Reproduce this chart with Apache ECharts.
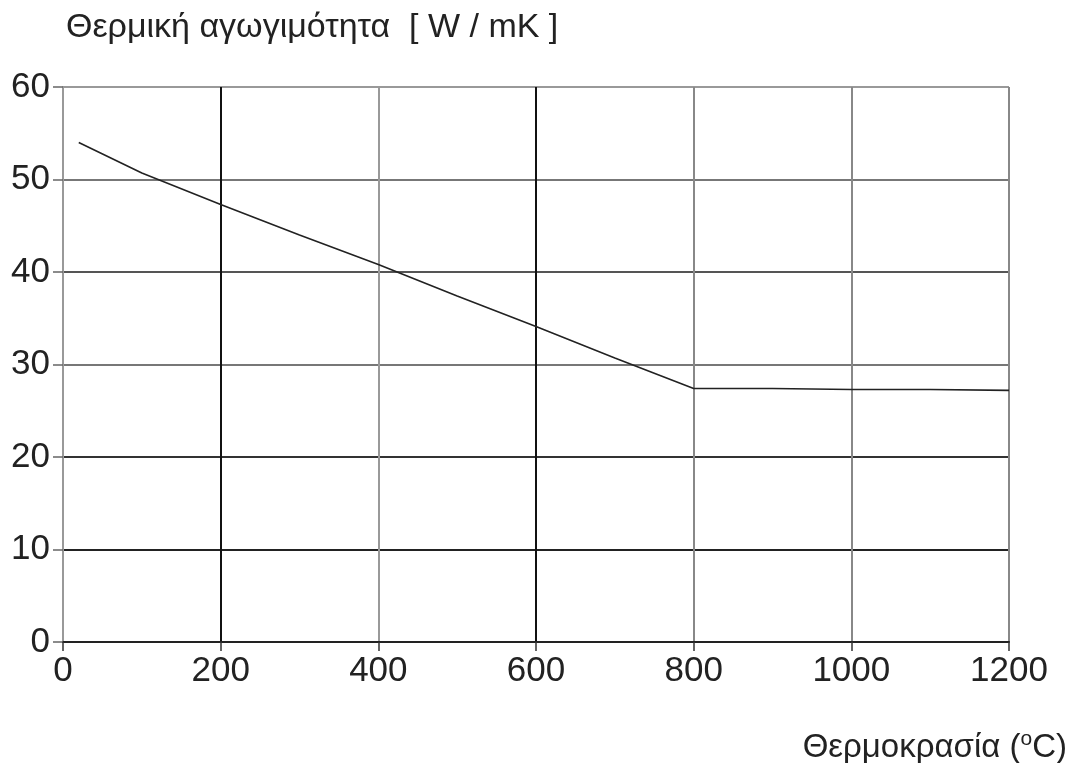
<!DOCTYPE html>
<html>
<head>
<meta charset="utf-8">
<script src="https://cdn.jsdelivr.net/npm/echarts@6/dist/echarts.min.js"></script>
<style>html,body{margin:0;padding:0;background:#fff}#c{width:1082px;height:763px}</style>
</head>
<body>
<div id="c"></div>
<script>
var temperatures = [20, 100, 200, 300, 400, 500, 600, 700, 800, 900, 1000, 1100, 1200];
var conductivity = [54.0, 50.7, 47.3, 44.0, 40.8, 37.4, 34.1, 30.7, 27.4, 27.4, 27.3, 27.3, 27.2];
var xTicks = [0, 200, 400, 600, 800, 1000, 1200];
var yTicks = [0, 10, 20, 30, 40, 50, 60];
var yTitle = 'Θερμική αγωγιμότητα  [ W / mK ]';
var xTitle = 'Θερμοκρασία (';

var FONT = '"Liberation Sans", Arial, sans-serif';
var chart = echarts.init(document.getElementById('c'), null, {renderer: 'canvas'});
var option = {
  backgroundColor: '#fff',
  animation: false,
  title: [
    {text: yTitle, left: 61, top: 6, textStyle: {fontFamily: FONT, fontSize: 34, fontWeight: 'normal', color: '#222'}},
    {text: '{a|' + xTitle + '}{s|o}{a|C)}', right: 10, top: 724,
     textStyle: {fontWeight: 'normal', rich: {
       a: {fontFamily: FONT, fontSize: 33, fontWeight: 'normal', color: '#222', verticalAlign: 'bottom'},
       s: {fontFamily: FONT, fontSize: 21, fontWeight: 'normal', color: '#222', verticalAlign: 'top', padding: [0, 0, 14, 0]}
     }}}
  ],
  grid: {left: 63, right: 73, top: 87, bottom: 121, containLabel: false},
  xAxis: {
    type: 'value', min: 0, max: 1200, interval: 200,
    axisLine: {show: true, lineStyle: {color: '#222', width: 2}},
    axisTick: {show: true, length: 9, lineStyle: {color: '#333', width: 1.5}},
    axisLabel: {fontFamily: FONT, fontSize: 35, color: '#222', margin: 12,
      formatter: function (v) { return xTicks.indexOf(v) >= 0 ? String(v) : ''; }},
    splitLine: {show: true, lineStyle: {width: 2, color: ['#999', '#111', '#999', '#111', '#888', '#888', '#888']}}
  },
  yAxis: {
    type: 'value', min: 0, max: 60, interval: 10,
    axisLine: {show: true, lineStyle: {color: '#999', width: 2}},
    axisTick: {show: true, length: 10, lineStyle: {color: '#666', width: 1.5}},
    axisLabel: {fontFamily: FONT, fontSize: 35, color: '#222', margin: 13, padding: [8, 0, 0, 0],
      formatter: function (v) { return yTicks.indexOf(v) >= 0 ? String(v) : ''; }},
    splitLine: {show: true, lineStyle: {width: 2, color: ['#222', '#222', '#333', '#777', '#555', '#777', '#999']}}
  },
  series: [{
    type: 'line',
    data: temperatures.map(function (t, i) { return [t, conductivity[i]]; }),
    showSymbol: false,
    symbol: 'none',
    lineStyle: {color: '#222', width: 1.6},
    z: 5
  }]
};
chart.setOption(option);
</script>
</body>
</html>
